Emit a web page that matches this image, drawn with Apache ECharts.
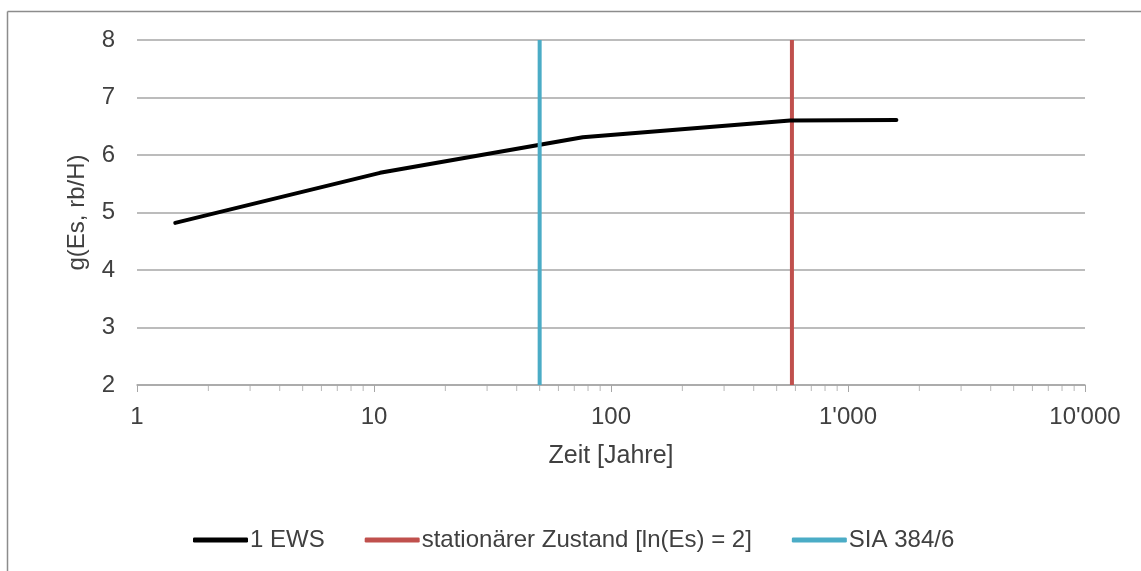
<!DOCTYPE html>
<html>
<head>
<meta charset="utf-8">
<script src="https://cdn.jsdelivr.net/npm/echarts@6/dist/echarts.min.js"></script>
<style>
html,body{margin:0;padding:0;background:#fff;}
#main{width:1141px;height:571px;}
</style>
</head>
<body>
<div id="main"></div>
<script>
// Data
const timeYears = [1.45, 10.6, 76, 570, 1600];
const gValues = [4.82, 5.69, 6.31, 6.60, 6.61];
const stationaryTime = 580;   // stationärer Zustand [ln(Es) = 2]
const siaTime = 50;           // SIA 384/6
const yRange = [2, 8];
const xTickLabels = {1: '1', 10: '10', 100: '100', 1000: "1'000", 10000: "10'000"};
const minorTickValues = [2,3,4,5,6,7,8,9,20,30,40,50,60,70,80,90,200,300,400,500,600,700,800,900,2000,3000,4000,5000,6000,7000,8000,9000];
const seriesNames = ['1 EWS', 'stationärer Zustand [ln(Es) = 2]', 'SIA 384/6'];

const FONT = '"Liberation Sans", Arial, sans-serif';
const TXT = '#404040';
const GRID = '#a6a6a6';

const chart = echarts.init(document.getElementById('main'), null, {renderer: 'canvas'});
chart.setOption({
  animation: false,
  backgroundColor: '#fff',
  textStyle: {fontFamily: FONT},
  graphic: [
    {type: 'line', shape: {x1: 7.5, y1: 11.5, x2: 1141, y2: 11.5}, style: {stroke: '#8c8c8c', lineWidth: 1.5}, silent: true},
    {type: 'line', shape: {x1: 7.5, y1: 11.5, x2: 7.5, y2: 571}, style: {stroke: '#8c8c8c', lineWidth: 1.5}, silent: true}
  ],
  grid: {left: 137, right: 56, top: 40, bottom: 186, containLabel: false},
  legend: {
    data: seriesNames,
    top: 523,
    left: 188,
    itemWidth: 55,
    itemHeight: 5,
    itemGap: 40,
    icon: 'roundRect',
    textStyle: {fontFamily: FONT, fontSize: 24, color: TXT, padding: [0,0,0,-3]}
  },
  xAxis: {
    type: 'log',
    logBase: 10,
    min: 1,
    max: 10000,
    name: 'Zeit [Jahre]',
    nameLocation: 'middle',
    nameGap: 59,
    nameTextStyle: {fontFamily: FONT, fontSize: 25, color: TXT},
    axisLine: {show: true, lineStyle: {color: GRID, width: 1.5}},
    axisTick: {show: true, length: 7, lineStyle: {color: GRID, width: 1}},
    axisLabel: {
      margin: 20,
      fontFamily: FONT, fontSize: 24, color: TXT,
      formatter: v => xTickLabels[Math.round(v)] !== undefined ? xTickLabels[Math.round(v)] : ''
    },
    splitLine: {show: false}
  },
  yAxis: {
    type: 'value',
    min: yRange[0],
    max: yRange[1],
    interval: 1,
    name: 'g(Es, rb/H)',
    nameLocation: 'middle',
    nameGap: 48,
    nameTextStyle: {fontFamily: FONT, fontSize: 24, color: TXT},
    axisLine: {show: false},
    axisTick: {show: false},
    axisLabel: {margin: 22, fontFamily: FONT, fontSize: 24, color: TXT},
    splitLine: {show: true, lineStyle: {color: GRID, width: 1.5}}
  },
  series: [
    {
      name: 'minor ticks',
      type: 'scatter',
      data: minorTickValues.map(v => [v, yRange[0]]),
      symbol: 'rect',
      symbolSize: [1, 6],
      symbolOffset: [0, 3],
      itemStyle: {color: GRID},
      clip: false,
      silent: true,
      z: 1
    },
    {
      name: seriesNames[1],
      type: 'line',
      data: [[stationaryTime, yRange[0]], [stationaryTime, yRange[1]]],
      showSymbol: false,
      symbol: 'none',
      lineStyle: {color: '#c0504d', width: 4},
      itemStyle: {color: '#c0504d'},
      z: 2
    },
    {
      name: seriesNames[0],
      type: 'line',
      data: timeYears.map((t, i) => [t, gValues[i]]),
      showSymbol: false,
      symbol: 'none',
      lineStyle: {color: '#000', width: 4, cap: 'round', join: 'round'},
      itemStyle: {color: '#000'},
      z: 3
    },
    {
      name: seriesNames[2],
      type: 'line',
      data: [[siaTime, yRange[0]], [siaTime, yRange[1]]],
      showSymbol: false,
      symbol: 'none',
      lineStyle: {color: '#4bacc6', width: 4},
      itemStyle: {color: '#4bacc6'},
      z: 4
    }
  ]
});
</script>
</body>
</html>
